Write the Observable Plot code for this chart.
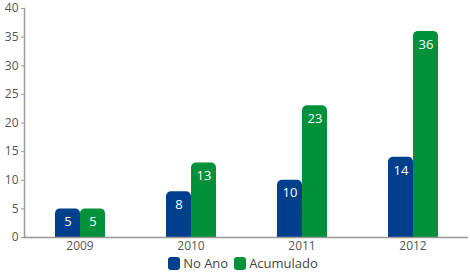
<!DOCTYPE html>
<html><head><meta charset="utf-8">
<script src="https://cdn.jsdelivr.net/npm/d3@7"></script>
<script src="https://cdn.jsdelivr.net/npm/@observablehq/plot@0.6"></script>
<style>
body{margin:0;background:#fff;font-family:"Open Sans",sans-serif;}
#legend{display:flex;justify-content:center;align-items:center;gap:6px;font-size:13px;color:#444;height:20px;margin-left:16px;margin-top:-3px}
.sw{display:inline-block;width:12px;height:13px;border-radius:3px;margin-right:3px;vertical-align:middle}
.it{display:flex;align-items:center}
</style></head><body>
<div id="chart"></div>
<div id="legend"></div>
<script>
const years = ["2009","2010","2011","2012"];
const series = ["No Ano","Acumulado"];
const noAno = [5, 8, 10, 14];
const acumulado = [5, 13, 23, 36];
const yTicks = [0,5,10,15,20,25,30,35,40];
const colors = ["#003f8c","#00913a"];

const data = years.flatMap((y,i)=>[
  {year:y, series:series[0], value:noAno[i]},
  {year:y, series:series[1], value:acumulado[i]}
]);

const plot = Plot.plot({
  width: 470, height: 256,
  marginLeft: 23, marginRight: 2, marginTop: 8, marginBottom: 19,
  style:{fontFamily:"Open Sans, sans-serif", fontSize:"12px", color:"#555"},
  fx:{domain: years, padding:0, label:null},
  x:{domain: series, paddingInner:0, paddingOuter:1.22, axis:null},
  y:{domain:[0,40], ticks: yTicks, label:null},
  color:{domain: series, range: colors},
  marks:[
    Plot.barY(data,{fx:"year", x:"series", y:"value", fill:"series", rx:5, ry:5}),
    Plot.barY(data,{fx:"year", x:"series", y: d=>d.value/2, fill:"series"}),
    Plot.text(data,{fx:"year", x:"series", y:"value", text: d=>String(d.value), fill:"white", dy:13, fontSize:13}),
    Plot.ruleY([0],{stroke:"#999", strokeWidth:1.5}),
    Plot.ruleX(years.slice(0,3),{fx:d=>d, frameAnchor:"right", y1:0, y2:0, insetBottom:-3, stroke:"#999"}),
    Plot.axisY({ticks:yTicks, tickSize:3, tickPadding:3, stroke:"#999", fill:"#555", label:null}),
    Plot.frame({anchor:"left", facetAnchor:"left", stroke:"#999", strokeWidth:1.5}),
    Plot.axisFx({anchor:"bottom", tickSize:0, tickPadding:4, fill:"#555", label:null})
  ]
});
document.getElementById("chart").appendChild(plot);

const lg = document.getElementById("legend");
series.forEach((s,i)=>{
  const it = document.createElement("span"); it.className="it";
  const sw = document.createElement("span"); sw.className="sw"; sw.style.background=colors[i];
  it.appendChild(sw); it.appendChild(document.createTextNode(s));
  lg.appendChild(it);
});
</script>
</body></html>
